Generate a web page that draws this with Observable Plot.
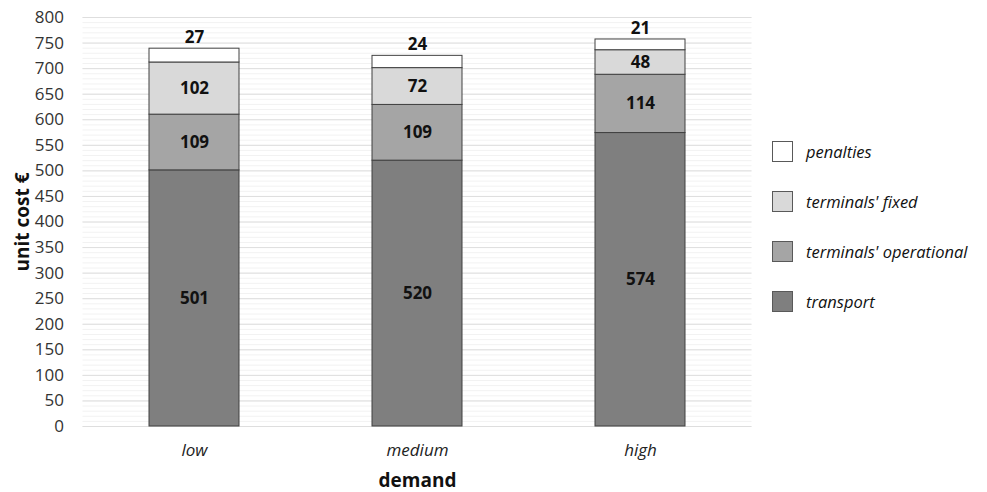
<!DOCTYPE html>
<html>
<head>
<meta charset="utf-8">
<script src="https://cdn.jsdelivr.net/npm/d3@7"></script>
<script src="https://cdn.jsdelivr.net/npm/@observablehq/plot@0.6"></script>
<style>
  html, body { margin: 0; padding: 0; background: #fff; }
  #wrap { position: relative; width: 987px; height: 492px; font-family: "Open Sans", sans-serif; }
  #legend { position: absolute; left: 772px; top: 140px; }
  .item { position: absolute; left: 0; display: flex; align-items: center; white-space: nowrap; }
  .sw { width: 21px; height: 21px; border: 1px solid #595959; box-sizing: border-box; margin-right: 13px; }
  .lab { font-style: italic; font-size: 16.5px; color: #111; }
</style>
</head>
<body>
<div id="wrap"><div id="legend"></div></div>
<script>
const demand = ["low", "medium", "high"];
const series = ["transport", "terminals' operational", "terminals' fixed", "penalties"];
const transport = [501, 520, 574];
const operational = [109, 109, 114];
const fixed = [102, 72, 48];
const penalties = [27, 24, 21];
const colors = ["#7f7f7f", "#a5a5a5", "#d9d9d9", "#ffffff"];
const legendOrder = ["penalties", "terminals' fixed", "terminals' operational", "transport"];

const values = [transport, operational, fixed, penalties];
const rows = [];
series.forEach((s, si) => demand.forEach((d, di) => rows.push({demand: d, series: s, value: values[si][di]})));
const totals = demand.map((d, i) => ({demand: d, total: values.reduce((a, v) => a + v[i], 0), pen: penalties[i]}));
const inner = rows.filter(r => r.series !== "penalties");

const fontFamily = "Open Sans, sans-serif";
const chart = Plot.plot({
  width: 987,
  height: 492,
  marginLeft: 82.5,
  marginRight: 235.5,
  marginTop: 17,
  marginBottom: 66,
  style: {fontFamily, background: "#fff"},
  x: {domain: demand, paddingInner: 0.596, paddingOuter: 0.298, align: 0.5, label: null},
  y: {domain: [0, 800], label: null},
  color: {domain: series, range: colors},
  marks: [
    Plot.gridY(d3.range(0, 801, 10), {stroke: "#f2f2f2", strokeOpacity: 1}),
    Plot.gridY(d3.range(0, 801, 50), {stroke: "#dedede", strokeOpacity: 1}),
    Plot.axisY({ticks: d3.range(0, 801, 50), tickSize: 0, tickPadding: 19, fontSize: 17, fill: "#333"}),
    Plot.axisX({tickSize: 0, tickPadding: 17, fontSize: 17, fontStyle: "italic", fill: "#222"}),
    Plot.barY(rows, {x: "demand", y: "value", fill: "series", stroke: "#404040", strokeWidth: 1}),
    Plot.text(inner, Plot.stackY({x: "demand", y: "value", z: "series", text: d => String(d.value), fontSize: 17, fontWeight: "bold", fill: "#111"})),
    Plot.text(totals, {x: "demand", y: "total", text: d => String(d.pen), dy: -11, fontSize: 17, fontWeight: "bold", fill: "#111"}),
    Plot.text(["unit cost €"], {frameAnchor: "left", textAnchor: "middle", dx: -60, rotate: -90, fontSize: 19, fontWeight: "bold", fill: "#111"}),
    Plot.text(["demand"], {frameAnchor: "bottom", dy: 60, fontSize: 19, fontWeight: "bold", fill: "#111"})
  ]
});
document.getElementById("wrap").prepend(chart);
chart.style.position = "absolute"; chart.style.left = "0"; chart.style.top = "0";

const legend = document.getElementById("legend");
legendOrder.forEach((s, i) => {
  const it = document.createElement("div");
  it.className = "item";
  it.style.top = (i * 50) + "px";
  const sw = document.createElement("div");
  sw.className = "sw";
  sw.style.background = colors[series.indexOf(s)];
  const lab = document.createElement("span");
  lab.className = "lab";
  lab.textContent = s;
  it.append(sw, lab);
  legend.append(it);
});
</script>
</body>
</html>
